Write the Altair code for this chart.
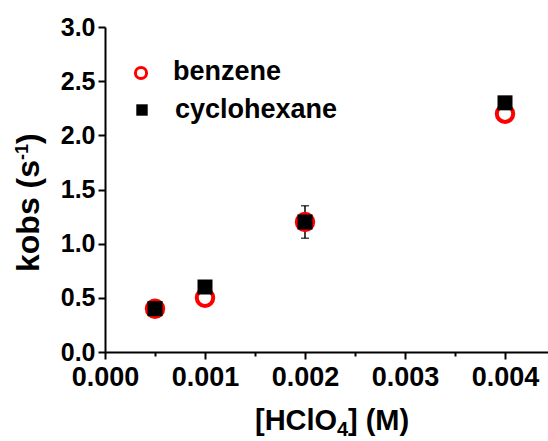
import altair as alt
import pandas as pd

# data
conc = [0.0005, 0.001, 0.002, 0.004]
benzene = [0.40, 0.50, 1.20, 2.20]
cyclohexane = [0.40, 0.60, 1.20, 2.30]
err_x = [0.002]
err_lo = [1.05]
err_hi = [1.35]
series_names = ["benzene", "cyclohexane"]
y_ticks = [0, 0.25, 0.5, 0.75, 1.0, 1.25, 1.5, 1.75, 2.0, 2.25, 2.5, 2.75, 3.0]
x_ticks = [0, 0.0005, 0.001, 0.0015, 0.002, 0.0025, 0.003, 0.0035, 0.004]

rows = [{"x": c, "y": v, "series": "benzene"} for c, v in zip(conc, benzene)]
rows += [{"x": c, "y": v, "series": "cyclohexane"} for c, v in zip(conc, cyclohexane)]
df = pd.DataFrame(rows)
err = pd.DataFrame({"x": err_x, "lo": err_lo, "hi": err_hi})

FONT = "Liberation Sans"
W, H = 443, 325

xscale = alt.Scale(domain=[0, 0.00443], nice=False, zero=False)
yscale = alt.Scale(domain=[0, 3.0], nice=False)

xaxis = alt.Axis(
    values=x_ticks, title=None,
    labelExpr="round(datum.value*2000) % 2 === 0 ? format(datum.value, '.3f') : ''",
    tickSize={"condition": {"test": "round(datum.value*2000) % 2 === 0", "value": 7}, "value": 4},
    labelFontSize=27, labelPadding=5, labelFlush=False, labelOverlap=False,
)
yaxis = alt.Axis(
    values=y_ticks, title=None,
    labelExpr="round(datum.value*4) % 2 === 0 ? format(datum.value, '.1f') : ''",
    tickSize={"condition": {"test": "round(datum.value*4) % 2 === 0", "value": 7}, "value": 4},
    labelFontSize=25, labelPadding=3, labelOverlap=False,
)

err_rule = alt.Chart(err).mark_rule(color="black", strokeWidth=1.5).encode(
    x=alt.X("x:Q", scale=xscale, axis=xaxis),
    y=alt.Y("lo:Q", scale=yscale, axis=yaxis),
    y2="hi:Q",
)
err_caps = alt.Chart(err).transform_fold(["lo", "hi"], as_=["k", "v"]).mark_tick(
    color="black", orient="horizontal", size=8, thickness=1.5
).encode(x=alt.X("x:Q", scale=xscale), y=alt.Y("v:Q", scale=yscale))

ben_df = df[df.series == series_names[0]]
cyc_df = df[df.series == series_names[1]]

circles = alt.Chart(ben_df).mark_point(
    shape="circle", filled=False, stroke="#ff0000", strokeWidth=4, size=270, opacity=1
).encode(x=alt.X("x:Q", scale=xscale), y=alt.Y("y:Q", scale=yscale))
squares = alt.Chart(cyc_df).mark_point(
    shape="square", filled=True, fill="black", color="black", strokeWidth=0, size=225, opacity=1
).encode(x=alt.X("x:Q", scale=xscale), y=alt.Y("y:Q", scale=yscale))

one = alt.Data(values=[{"a": 1}])
def txt(s, x, y, size, angle=0, baseline="alphabetic"):
    return alt.Chart(one).mark_text(
        text=s, font=FONT, fontWeight="bold", fontSize=size, align="left",
        baseline=baseline, angle=angle, color="black"
    ).encode(x=alt.value(x), y=alt.value(y))

# legend (drawn by hand: open red circle, filled black square)
leg_circle = alt.Chart(one).mark_point(
    shape="circle", filled=False, stroke="#ff0000", strokeWidth=3, size=125, opacity=1
).encode(x=alt.value(36), y=alt.value(46))
leg_square = alt.Chart(one).mark_point(
    shape="square", filled=True, fill="black", strokeWidth=0, size=130, opacity=1
).encode(x=alt.value(37), y=alt.value(83))

titles = [
    txt(series_names[0], 68, 53, 27),
    txt(series_names[1], 70, 91, 27),
    txt("kobs (s", -66, 245, 32, 270),
    txt("-1", -77, 133, 18, 270),
    txt(")", -66, 117, 32, 270),
    txt("[HClO", 150, 403, 29),
    txt("4", 232, 409, 20),
    txt("] (M)", 243, 403, 29),
]

chart = alt.layer(err_rule, err_caps, circles, squares, leg_circle, leg_square, *titles).properties(
    width=W, height=H,
    autosize=alt.AutoSizeParams(type="none"),
    padding={"left": 105, "top": 27, "right": 0, "bottom": 89},
).configure_view(stroke=None).configure_axis(
    domainColor="black", domainWidth=2, tickColor="black", tickWidth=2,
    labelFont=FONT, labelFontWeight="bold", labelColor="black", grid=False,
)

chart.save("out.html", embed_options={"renderer": "svg", "actions": False})
